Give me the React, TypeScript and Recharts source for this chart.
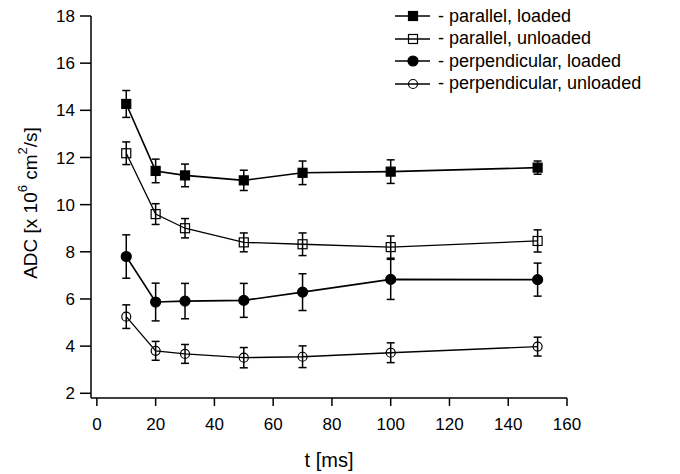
import React from 'react';
import {
  LineChart,
  Line,
  XAxis,
  YAxis,
  ErrorBar,
  Legend,
  Label,
} from 'recharts';

// diffusion time [ms]
const times = [10, 20, 30, 50, 70, 100, 150];

// ADC values [x 10^-6 cm^2/s] and their error bars
const parallelLoaded = [14.27, 11.43, 11.24, 11.03, 11.35, 11.4, 11.57];
const parallelLoadedErr = [0.57, 0.5, 0.48, 0.43, 0.5, 0.5, 0.28];
const parallelUnloaded = [12.18, 9.6, 9.0, 8.4, 8.32, 8.2, 8.46];
const parallelUnloadedErr = [0.48, 0.44, 0.41, 0.4, 0.48, 0.47, 0.47];
const perpLoaded = [7.8, 5.87, 5.91, 5.94, 6.29, 6.83, 6.82];
const perpLoadedErr = [0.92, 0.8, 0.75, 0.72, 0.78, 0.85, 0.7];
const perpUnloaded = [5.25, 3.8, 3.67, 3.51, 3.55, 3.72, 3.98];
const perpUnloadedErr = [0.5, 0.4, 0.4, 0.43, 0.46, 0.42, 0.4];

const xTicks = [0, 20, 40, 60, 80, 100, 120, 140, 160];
const yTicks = [2, 4, 6, 8, 10, 12, 14, 16, 18];

const data = times.map((t, i) => ({
  t,
  pl: parallelLoaded[i],
  plErr: parallelLoadedErr[i],
  pu: parallelUnloaded[i],
  puErr: parallelUnloadedErr[i],
  ql: perpLoaded[i],
  qlErr: perpLoadedErr[i],
  qu: perpUnloaded[i],
  quErr: perpUnloadedErr[i],
}));

const FONT = '"Liberation Sans", Arial, Helvetica, sans-serif';

type Shape = 'square' | 'squareOpen' | 'circle' | 'circleOpen';

const Marker = ({ shape, cx, cy }: { shape: Shape; cx: number; cy: number }) => {
  if (shape === 'square' || shape === 'squareOpen') {
    const s = 9;
    return (
      <rect
        x={cx - s / 2}
        y={cy - s / 2}
        width={s}
        height={s}
        fill={shape === 'square' ? '#000' : 'none'}
        stroke="#000"
        strokeWidth={1.2}
      />
    );
  }
  return (
    <circle
      cx={cx}
      cy={cy}
      r={shape === 'circle' ? 5 : 4.5}
      fill={shape === 'circle' ? '#000' : 'none'}
      stroke="#000"
      strokeWidth={1.2}
    />
  );
};

const series: { key: string; err: string; name: string; shape: Shape; width: number }[] = [
  { key: 'pl', err: 'plErr', name: 'parallel, loaded', shape: 'square', width: 1.6 },
  { key: 'pu', err: 'puErr', name: 'parallel, unloaded', shape: 'squareOpen', width: 1.3 },
  { key: 'ql', err: 'qlErr', name: 'perpendicular, loaded', shape: 'circle', width: 1.6 },
  { key: 'qu', err: 'quErr', name: 'perpendicular, unloaded', shape: 'circleOpen', width: 1.3 },
];

const LegendBox = () => (
  <div style={{ fontFamily: FONT, fontSize: 18, color: '#000' }}>
    {series.map((s) => (
      <div
        key={s.key}
        style={{ display: 'flex', alignItems: 'center', height: 22.5, whiteSpace: 'nowrap' }}
      >
        <svg width={43} height={20} style={{ display: 'block' }}>
          <line x1={0} y1={10} x2={35} y2={10} stroke="#000" strokeWidth={s.width} />
          <Marker shape={s.shape} cx={18} cy={10} />
        </svg>
        <span>- {s.name}</span>
      </div>
    ))}
  </div>
);

const YTitle = (props: any) => {
  const vb = props.viewBox || {};
  const x = 30;
  const y = (vb.y ?? 16) + (vb.height ?? 382) / 2 - 4;
  return (
    <text
      x={x}
      y={y}
      transform={`rotate(-90, ${x}, ${y})`}
      textAnchor="middle"
      dominantBaseline="central"
      fontFamily={FONT}
      fontSize={19}
      fill="#000"
    >
      ADC [x 10
      <tspan dy={-8} fontSize={13}>6</tspan>
      <tspan dy={8}> cm</tspan>
      <tspan dy={-8} fontSize={13}>2</tspan>
      <tspan dy={8}>/s]</tspan>
    </text>
  );
};

export default function App() {
  return (
    <div style={{ position: 'absolute', left: 0, top: 0, background: '#fff', fontFamily: FONT }}>
      <LineChart
        width={680}
        height={474}
        data={data}
        margin={{ top: 16, right: 113, bottom: 0, left: 0 }}
      >
        <XAxis
          type="number"
          dataKey="t"
          domain={[-2, 160]}
          ticks={xTicks}
          height={76}
          tickSize={8}
          tickMargin={12}
          stroke="#000"
          strokeWidth={1.5}
          tick={{ fill: '#000', fontSize: 17, fontFamily: FONT }}
          label={{
            value: 't [ms]',
            position: 'insideBottom',
            offset: 7,
            fill: '#000',
            fontSize: 20,
            fontFamily: FONT,
          }}
        />
        <YAxis
          type="number"
          domain={[1.8, 18]}
          ticks={yTicks}
          width={91}
          tickSize={11}
          tickMargin={5}
          stroke="#000"
          strokeWidth={1.5}
          tick={{ fill: '#000', fontSize: 17, fontFamily: FONT }}
        >
          <Label content={<YTitle />} />
        </YAxis>
        <Legend
          layout="horizontal"
          verticalAlign="middle"
          align="center"
          content={<LegendBox />}
          wrapperStyle={{ top: 5, left: 395, width: 285 }}
        />
        {series.map((s) => (
          <Line
            key={s.key}
            dataKey={s.key}
            name={s.name}
            type="linear"
            stroke="#000"
            strokeWidth={s.width}
            isAnimationActive={false}
            dot={(p: any) => (
              <Marker key={`${s.key}-${p.index}`} shape={s.shape} cx={p.cx} cy={p.cy} />
            )}
            activeDot={false}
          >
            <ErrorBar
              dataKey={s.err}
              direction="y"
              width={4}
              stroke="#000"
              strokeWidth={1.5}
              isAnimationActive={false}
            />
          </Line>
        ))}
      </LineChart>
    </div>
  );
}
